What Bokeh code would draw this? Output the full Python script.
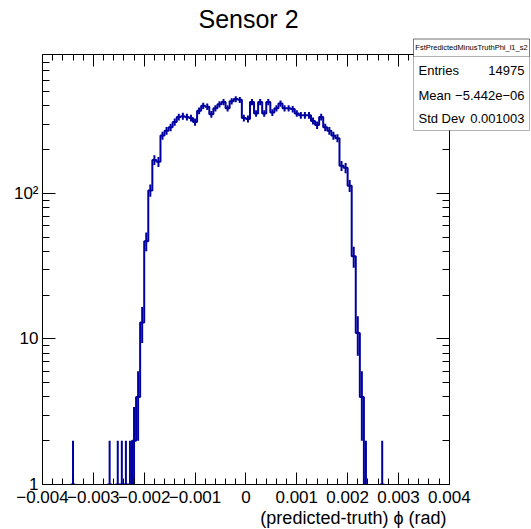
import numpy as np
from bokeh.plotting import figure
from bokeh.models import FixedTicker, LinearAxis, LogAxis, Title, Label, BoxAnnotation
from bokeh.embed import file_html
from bokeh.resources import INLINE

# ---------------- data ----------------
x_min, x_max, n_bins = -0.004, 0.004, 100
y_min, y_max = 1, 900
counts = [0, 0, 0, 0, 0, 0, 0, 1, 0, 0,
          0, 0, 0, 0, 0, 0, 1, 0, 1, 1,
          1, 1, 2, 4, 13, 47, 105, 170, 165, 250,
          270, 285, 310, 335, 340, 335, 330, 310, 370, 400,
          395, 350, 385, 410, 425, 385, 430, 445, 440, 330,
          325, 425, 355, 425, 355, 425, 360, 385, 415, 385,
          385, 380, 355, 345, 345, 345, 315, 295, 335, 285,
          270, 250, 240, 155, 150, 113, 37, 11, 4, 1,
          0, 0, 0, 1, 0, 0, 0, 0, 0, 0,
          0, 0, 0, 0, 0, 0, 0, 0, 0, 0]
x_tick_values = [-0.004, -0.003, -0.002, -0.001, 0.0, 0.001, 0.002, 0.003, 0.004]
x_tick_labels = ["\u22120.004", "\u22120.003", "\u22120.002", "\u22120.001", "0",
                 "0.001", "0.002", "0.003", "0.004"]
y_tick_values = [1, 10, 100]
y_tick_labels = ["1", "10", "10\u00b2"]
title_text = "Sensor 2"
x_title = "(predicted-truth) \u03d5 (rad)"
stats_name = "FstPredictedMinusTruthPhi_l1_s2"
stats_labels = ["Entries", "Mean", "Std Dev"]
stats_values = ["14975", "\u22125.442e\u221206", "0.001003"]

# ---------------- derived ----------------
edges = np.linspace(x_min, x_max, n_bins + 1)
centers = 0.5 * (edges[:-1] + edges[1:])
c = np.array(counts, dtype=float)
floor = 0.1
sx, sy = [], []
for i in range(n_bins):
    v = c[i] if c[i] > 0 else floor
    sx += [edges[i], edges[i + 1]]
    sy += [v, v]
nz = c > 0
err = np.sqrt(c[nz])
ey0 = np.maximum(c[nz] - err, floor)
ey1 = c[nz] + err

FONT = "Liberation Sans"
COL = "#0000a0"

# ---------------- layout geometry (canvas px) ----------------
W, H = 531, 529
FL, FB = 42, 484          # frame left / bottom
FR_VIS, FT_VIS = 448, 55  # where x_max / y_max sit (visible ROOT frame)
FR, FT = 530, 1           # full bokeh frame right / top (room for title + stats box)
x_end = x_min + (FR - FL) * (x_max - x_min) / (FR_VIS - FL)
y_end = 10 ** (np.log10(y_max) * (FB - FT) / (FB - FT_VIS))

p = figure(width=W, height=H, x_range=(x_min, x_end), y_range=(y_min, y_end),
           y_axis_type="log", output_backend="svg", toolbar_location=None,
           min_border_left=FL, min_border_right=0, min_border_top=0,
           min_border_bottom=H - FB)
p.grid.visible = False
p.outline_line_color = None
p.background_fill_color = "white"
p.border_fill_color = "white"

p.line(sx, sy, line_color=COL, line_width=2)
p.segment(centers[nz], ey0, centers[nz], ey1, line_color=COL, line_width=2)

minor_x = [round(x_min + k * 0.0002, 6) for k in range(41)]
minor_y = [m * d for d in (1, 10, 100) for m in range(2, 10)]

def style_x(ax, labels=True):
    ax.ticker = FixedTicker(ticks=x_tick_values, minor_ticks=minor_x)
    ax.bounds = (x_min, x_max)
    ax.major_tick_in = 12
    ax.major_tick_out = 0
    ax.minor_tick_in = 6
    ax.minor_tick_out = 0
    ax.axis_line_color = "black"
    ax.major_tick_line_color = "black"
    ax.minor_tick_line_color = "black"
    ax.major_label_text_font = FONT
    if labels:
        ax.major_label_overrides = {v: l for v, l in zip(x_tick_values, x_tick_labels)}
        ax.major_label_text_font_size = "17px"
        ax.major_label_text_color = "black"
        ax.major_label_standoff = 6
    else:
        ax.major_label_overrides = {v: "" for v in x_tick_values}
        ax.major_label_text_font_size = "1px"
        ax.major_label_standoff = 0

def style_y(ax, labels=True):
    ax.ticker = FixedTicker(ticks=y_tick_values, minor_ticks=minor_y)
    ax.bounds = (y_min, y_max)
    ax.major_tick_in = 13
    ax.major_tick_out = 0
    ax.minor_tick_in = 7
    ax.minor_tick_out = 0
    ax.axis_line_color = "black"
    ax.major_tick_line_color = "black"
    ax.minor_tick_line_color = "black"
    ax.major_label_text_font = FONT
    if labels:
        ax.major_label_overrides = {v: l for v, l in zip(y_tick_values, y_tick_labels)}
        ax.major_label_text_font_size = "17px"
        ax.major_label_text_color = "black"
        ax.major_label_standoff = 4
    else:
        ax.major_label_overrides = {v: "" for v in y_tick_values}
        ax.major_label_text_font_size = "1px"
        ax.major_label_standoff = 0

style_x(p.xaxis[0])
style_y(p.yaxis[0])
top_ax = LinearAxis(fixed_location=y_max)
style_x(top_ax, labels=False)
p.add_layout(top_ax, "above")
right_ax = LogAxis(fixed_location=x_max)
style_y(right_ax, labels=False)
p.add_layout(right_ax, "right")

xt = Title(text=x_title, align="right", text_font=FONT, text_font_size="18px",
           text_font_style="normal", text_color="black", standoff=0,
           offset=(FR - 5) - FR_VIS + 8)
p.add_layout(xt, "below")

# ---------------- title and stats box (screen px relative to frame) ----------------
def fx(xc):
    return xc - FL

def fy(yc):
    return FB - yc

p.add_layout(Label(x=fx(248), y=fy(18), x_units="screen", y_units="screen",
                   text=title_text, text_font=FONT, text_font_size="25px",
                   text_align="center", text_baseline="middle", text_color="black"))

bx0, bx1, by0, by1, bhead = 413, 529, 38.5, 130, 56
p.add_layout(BoxAnnotation(left=fx(bx0), right=fx(bx1), top=fy(by0), bottom=fy(by1),
                           left_units="screen", right_units="screen",
                           top_units="screen", bottom_units="screen",
                           fill_color="white", fill_alpha=1.0,
                           line_color="black", line_width=1))
p.add_layout(BoxAnnotation(left=fx(bx0), right=fx(bx1), top=fy(by0), bottom=fy(bhead),
                           left_units="screen", right_units="screen",
                           top_units="screen", bottom_units="screen",
                           fill_alpha=0.0, line_color="black", line_width=1))
p.add_layout(Label(x=fx((bx0 + bx1) / 2), y=fy((by0 + bhead) / 2), x_units="screen",
                   y_units="screen", text=stats_name, text_font=FONT,
                   text_font_size="7.5px", text_align="center", text_baseline="middle",
                   text_color="black"))
row_y = [70, 95, 118]
for lab, val, yy in zip(stats_labels, stats_values, row_y):
    p.add_layout(Label(x=fx(bx0 + 5), y=fy(yy), x_units="screen", y_units="screen",
                       text=lab, text_font=FONT, text_font_size="13px",
                       text_align="left", text_baseline="middle", text_color="black"))
    p.add_layout(Label(x=fx(bx1 - 5), y=fy(yy), x_units="screen", y_units="screen",
                       text=val, text_font=FONT, text_font_size="13px",
                       text_align="right", text_baseline="middle", text_color="black"))

open("out.html", "w").write(file_html(p, INLINE))
